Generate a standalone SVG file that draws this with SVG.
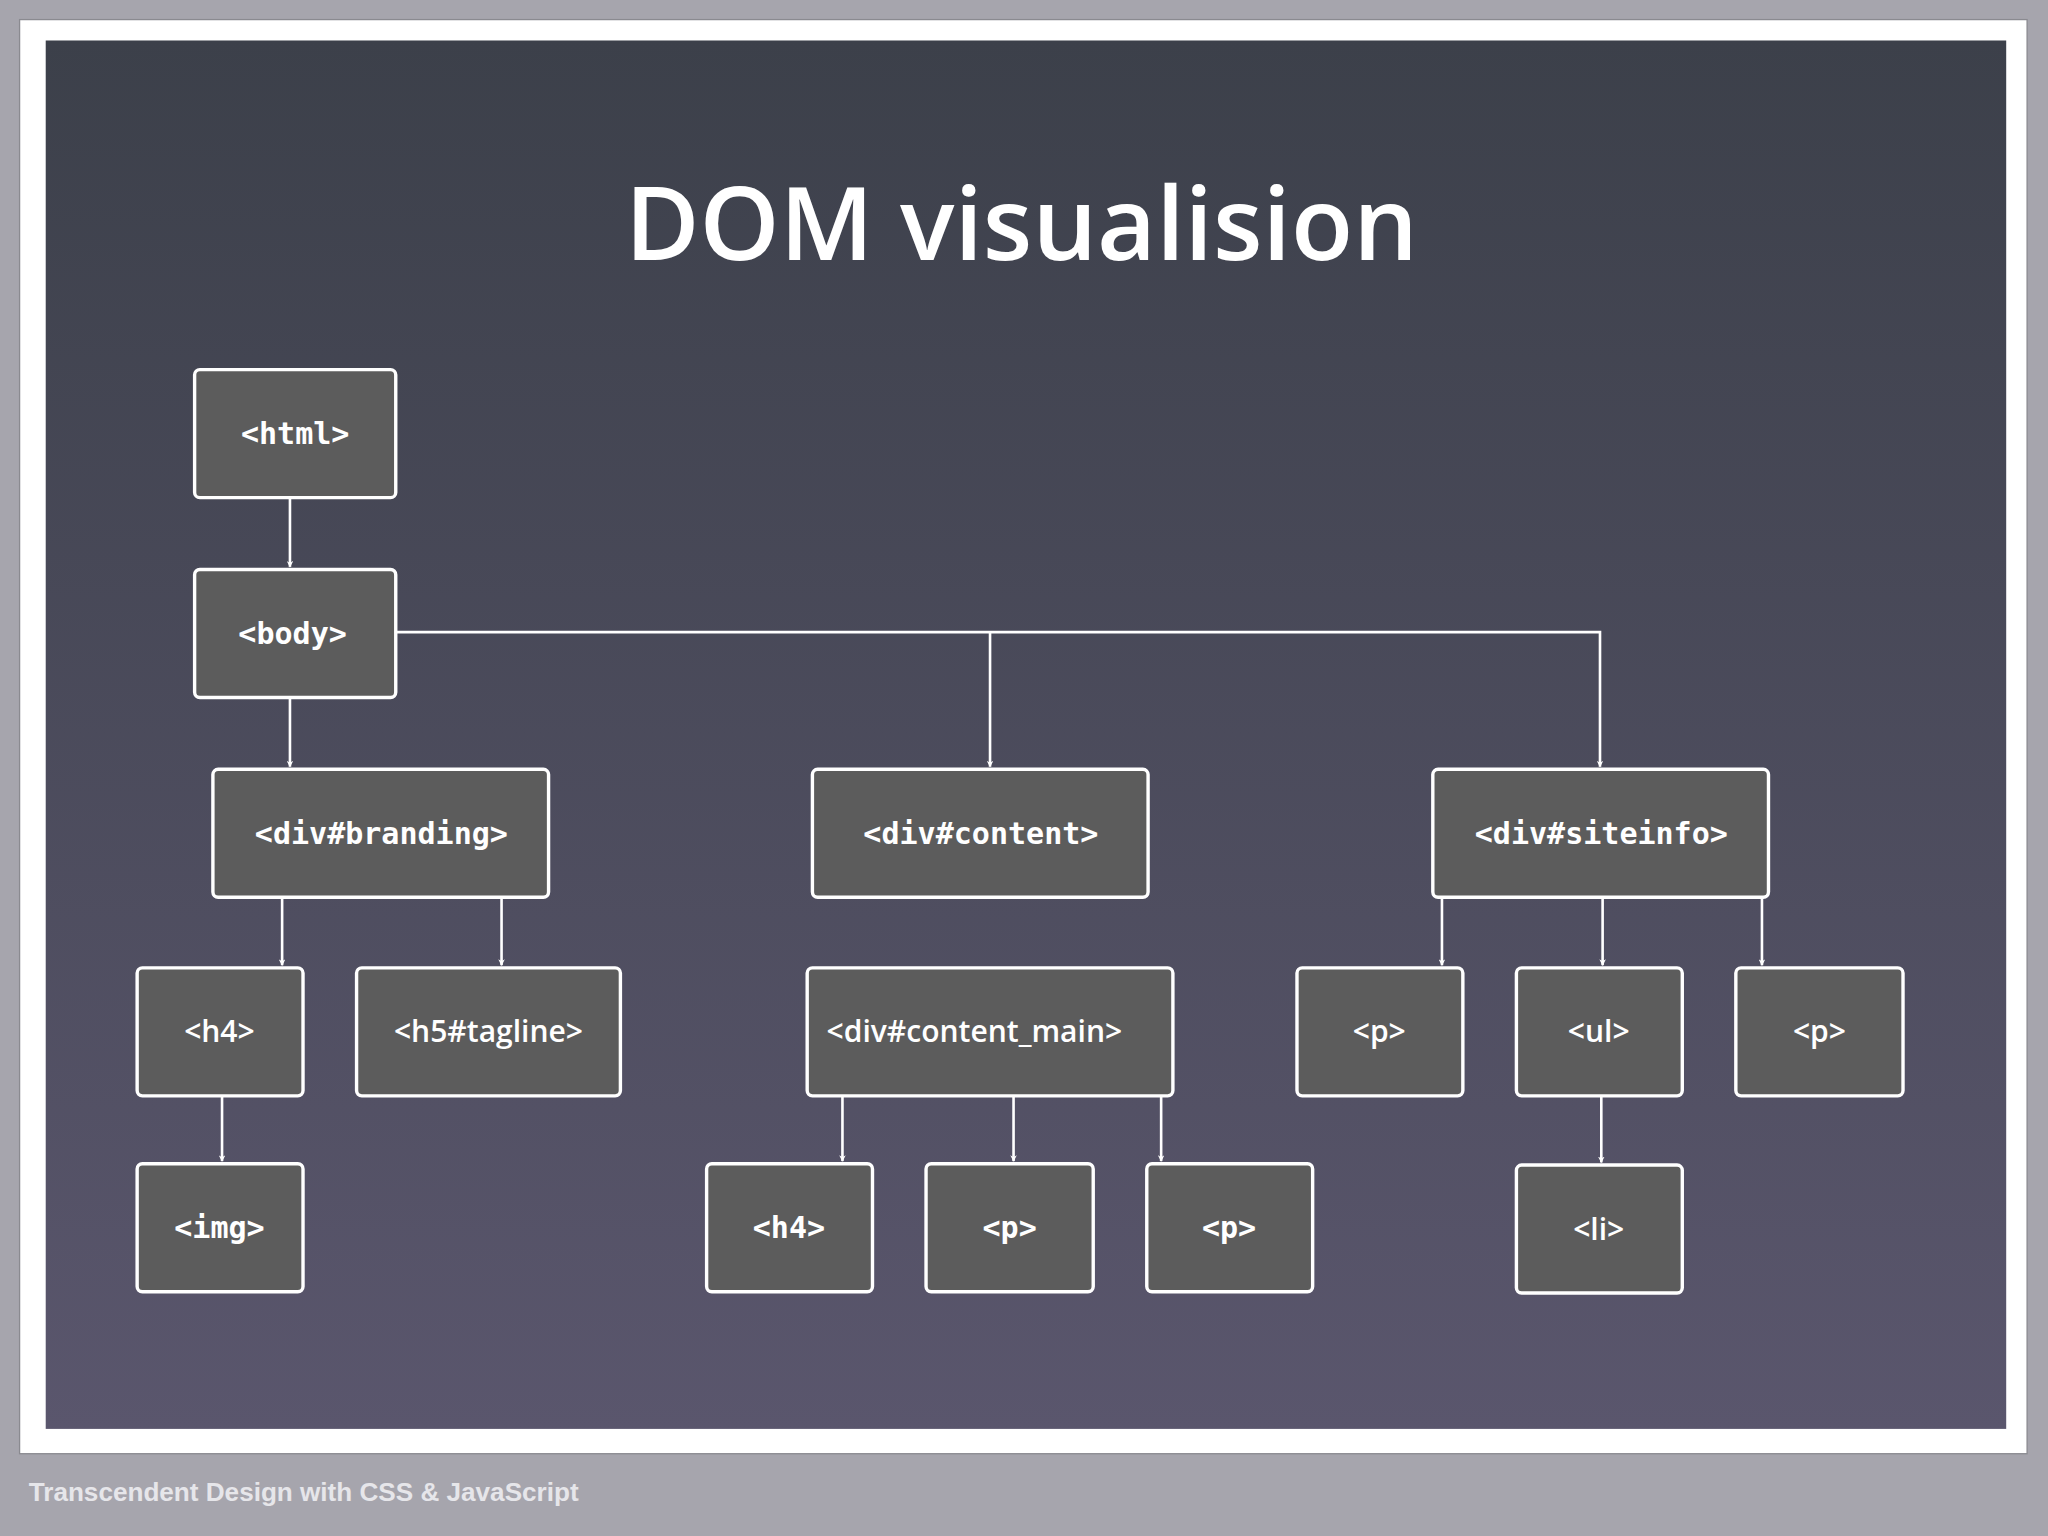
<svg xmlns="http://www.w3.org/2000/svg" width="2048" height="1536" viewBox="0 0 2048 1536">
<defs>
<linearGradient id="bg" x1="0" y1="0" x2="0" y2="1"><stop offset="0" stop-color="#3c404a"/><stop offset="1" stop-color="#5a566d"/></linearGradient>
<marker id="ar" viewBox="0 0 10 10" refX="9" refY="5" markerWidth="5" markerHeight="5" markerUnits="userSpaceOnUse" orient="auto"><path d="M0,0 L10,5 L0,10 L3,5 z" fill="#fff"/></marker>
<style>
.n rect{fill:#5c5c5c;stroke:#fff;stroke-width:2.6}
.m{font-family:"DejaVu Sans Mono",monospace;font-weight:bold;font-size:23px;fill:#fff;text-anchor:middle}
.s{font-family:"Open Sans","Noto Sans",sans-serif;font-weight:600;font-size:23px;fill:#fff;text-anchor:middle}
.c path{fill:none;stroke:#fff;stroke-width:2}
</style>
</defs>
<rect width="2048" height="1536" fill="#a6a5ad"/>
<g transform="scale(1.306122)">
<rect x="15" y="15" width="1537" height="1098" fill="#fff" stroke="#8a8a90" stroke-width="1"/>
<rect x="35" y="31" width="1501" height="1063" fill="url(#bg)"/>
<text x="22" y="1149" font-family="Liberation Sans,Arial,sans-serif" font-weight="bold" font-size="20" fill="#e6e6ea">Transcendent Design with CSS &amp; JavaScript</text>
<text x="782" y="199" font-family="Open Sans,Noto Sans,sans-serif" font-weight="600" font-size="78" fill="#fff" text-anchor="middle">DOM visualision</text>
<g class="c">
<path d="M222,381 V434" marker-end="url(#ar)"/>
<path d="M222,534 V587" marker-end="url(#ar)"/>
<path d="M303,484 H1225 V587" marker-end="url(#ar)"/>
<path d="M758,484 V587" marker-end="url(#ar)"/>
<path d="M216,687 V739" marker-end="url(#ar)"/>
<path d="M384,687 V739" marker-end="url(#ar)"/>
<path d="M170,839 V889" marker-end="url(#ar)"/>
<path d="M645,839 V889" marker-end="url(#ar)"/>
<path d="M776,839 V889" marker-end="url(#ar)"/>
<path d="M889,839 V889" marker-end="url(#ar)"/>
<path d="M1104,687 V739" marker-end="url(#ar)"/>
<path d="M1227,687 V739" marker-end="url(#ar)"/>
<path d="M1349,687 V739" marker-end="url(#ar)"/>
<path d="M1226,839 V890" marker-end="url(#ar)"/>
</g>
<g id="html" class="n"><rect x="149" y="283" width="154" height="98" rx="4"/><text class="m" x="226" y="340">&lt;html&gt;</text></g>
<g id="body" class="n"><rect x="149" y="436" width="154" height="98" rx="4"/><text class="m" x="224" y="493">&lt;body&gt;</text></g>
<g id="branding" class="n"><rect x="163" y="589" width="257" height="98" rx="4"/><text class="m" x="292" y="646">&lt;div#branding&gt;</text></g>
<g id="content" class="n"><rect x="622" y="589" width="257" height="98" rx="4"/><text class="m" x="751" y="646">&lt;div#content&gt;</text></g>
<g id="siteinfo" class="n"><rect x="1097" y="589" width="257" height="98" rx="4"/><text class="m" x="1226" y="646">&lt;div#siteinfo&gt;</text></g>
<g id="h4a" class="n"><rect x="105" y="741" width="127" height="98" rx="4"/><text class="s" x="168" y="798">&lt;h4&gt;</text></g>
<g id="tagline" class="n"><rect x="273" y="741" width="202" height="98" rx="4"/><text class="s" x="374" y="798">&lt;h5#tagline&gt;</text></g>
<g id="content_main" class="n"><rect x="618" y="741" width="280" height="98" rx="4"/><text class="s" x="746" y="798">&lt;div#content_main&gt;</text></g>
<g id="p1" class="n"><rect x="993" y="741" width="127" height="98" rx="4"/><text class="s" x="1056" y="798">&lt;p&gt;</text></g>
<g id="ul" class="n"><rect x="1161" y="741" width="127" height="98" rx="4"/><text class="s" x="1224" y="798">&lt;ul&gt;</text></g>
<g id="p2" class="n"><rect x="1329" y="741" width="128" height="98" rx="4"/><text class="s" x="1393" y="798">&lt;p&gt;</text></g>
<g id="img" class="n"><rect x="105" y="891" width="127" height="98" rx="4"/><text class="m" x="168" y="948">&lt;img&gt;</text></g>
<g id="h4b" class="n"><rect x="541" y="891" width="127" height="98" rx="4"/><text class="m" x="604" y="948">&lt;h4&gt;</text></g>
<g id="p3" class="n"><rect x="709" y="891" width="128" height="98" rx="4"/><text class="m" x="773" y="948">&lt;p&gt;</text></g>
<g id="p4" class="n"><rect x="878" y="891" width="127" height="98" rx="4"/><text class="m" x="941" y="948">&lt;p&gt;</text></g>
<g id="li" class="n"><rect x="1161" y="892" width="127" height="98" rx="4"/><text class="s" x="1224" y="949">&lt;li&gt;</text></g>
</g>
</svg>
